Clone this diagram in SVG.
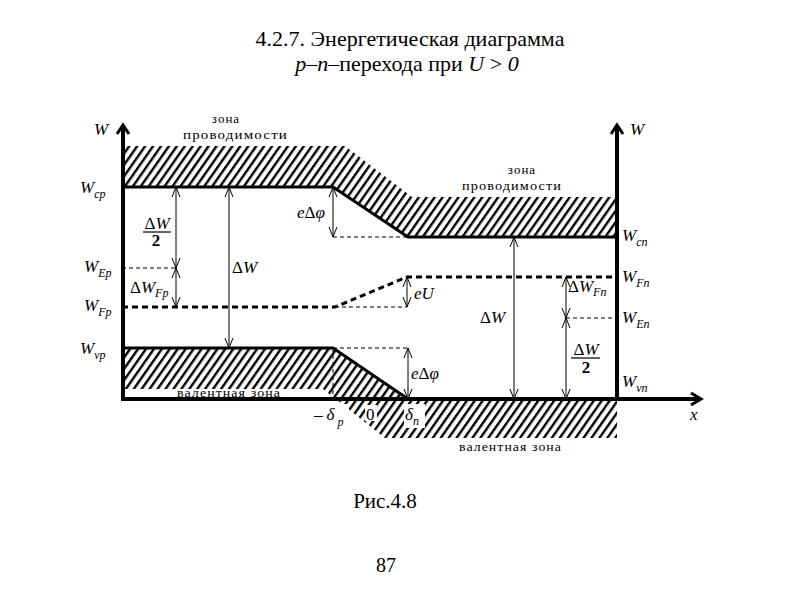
<svg xmlns="http://www.w3.org/2000/svg" width="800" height="600" viewBox="0 0 800 600">
<defs>
<pattern id="hatch" patternUnits="userSpaceOnUse" width="6.5" height="20" patternTransform="rotate(35)">
<rect x="0" y="0" width="2.4" height="20" fill="#000"/>
</pattern>
<marker id="v" viewBox="0 -5 11 10" refX="10" refY="0" markerWidth="11" markerHeight="10" markerUnits="userSpaceOnUse" orient="auto-start-reverse">
<path d="M0,-4 L10,0 L0,4" fill="none" stroke="#000" stroke-width="1"/>
</marker>
</defs>
<style>
.t{font-family:"Liberation Serif","Times New Roman",serif;fill:#000}
.i{font-style:italic}
.zone{font-family:"Liberation Serif","Times New Roman",serif;font-size:13px;fill:#000;letter-spacing:1px}
.thick{fill:none;stroke:#000;stroke-width:3}
.axis{fill:none;stroke:#000;stroke-width:4}
.thin{fill:none;stroke:#000;stroke-width:1}
.dash{fill:none;stroke:#000;stroke-width:1;stroke-dasharray:4 3}
.arr{fill:none;stroke:#000;stroke-width:1;marker-start:url(#v);marker-end:url(#v)}
.lab{font-family:"Liberation Serif","Times New Roman",serif;font-size:17px;fill:#000}
.sub{font-size:12px}
</style>
<rect width="800" height="600" fill="#fff"/>

<g id="title">
<text class="t" x="410" y="46" font-size="22" text-anchor="middle">4.2.7. Энергетическая диаграмма</text>
<text class="t" x="407" y="71" font-size="22" text-anchor="middle"><tspan class="i">p</tspan>–<tspan class="i">n</tspan>–перехода при <tspan class="i">U</tspan> &gt; <tspan class="i">0</tspan></text>
</g>

<g id="conduction-band">
<polygon points="122,146 345,146 412,197 617,197 617,237 408,237 333,187 122,187" fill="url(#hatch)"/>
<polyline class="thick" points="122,187 333,187 408,237 617,237"/>
<text class="zone" x="226" y="123" text-anchor="middle">зона</text>
<text class="zone" x="183" y="139" textLength="105" lengthAdjust="spacingAndGlyphs">проводимости</text>
<text class="zone" x="522" y="174" text-anchor="middle">зона</text>
<text class="zone" x="462" y="190" textLength="100" lengthAdjust="spacingAndGlyphs">проводимости</text>
</g>

<g id="valence-band">
<polygon points="122,348 333,348 408,399 617,399 617,438 385,438 323,389 122,389" fill="url(#hatch)"/>
<polyline class="thick" points="122,348 333,348 408,399"/>
<text class="zone" x="177" y="397" textLength="104" lengthAdjust="spacingAndGlyphs">валентная зона</text>
<text class="zone" x="459" y="451" textLength="103" lengthAdjust="spacingAndGlyphs">валентная зона</text>
</g>

<g id="fermi-level">
<polyline points="122,307 335,307 407,277 617,277" fill="none" stroke="#000" stroke-width="3" stroke-dasharray="6 4"/>
</g>

<g id="axes">
<polyline class="axis" points="123,128 123,399 700,399"/>
<polyline class="axis" points="617,128 617,399"/>
<polyline points="117,134 123,125 129,134" fill="none" stroke="#000" stroke-width="3"/>
<polyline points="611,134 617,125 623,134" fill="none" stroke="#000" stroke-width="3"/>
<polyline points="691,393 701,399 691,405" fill="none" stroke="#000" stroke-width="3"/>
<text class="lab i" x="94" y="135">W</text>
<text class="lab i" x="630" y="135">W</text>
<text class="lab i" x="690" y="420">x</text>
</g>

<g id="connectors">
<line class="dash" x1="333" y1="237" x2="408" y2="237"/>
<line class="dash" x1="335" y1="307" x2="407" y2="307"/>
<line class="dash" x1="122" y1="268" x2="176" y2="268"/>
<line class="dash" x1="566" y1="318" x2="617" y2="318"/>
<line class="dash" x1="333" y1="348" x2="408" y2="348"/>
<line class="dash" x1="333" y1="348" x2="333" y2="401"/>
<line class="arr" x1="333" y1="187" x2="333" y2="237"/>
<line class="arr" x1="176" y1="187" x2="176" y2="268"/>
<line class="arr" x1="176" y1="268" x2="176" y2="307"/>
<line class="arr" x1="229" y1="187" x2="229" y2="348"/>
<line class="arr" x1="407" y1="277" x2="407" y2="307"/>
<line class="arr" x1="408" y1="348" x2="408" y2="399"/>
<line class="arr" x1="514" y1="237" x2="514" y2="399"/>
<line class="arr" x1="566" y1="277" x2="566" y2="318"/>
<line class="arr" x1="566" y1="318" x2="566" y2="399"/>
</g>

<g id="left-labels">
<text class="lab i" x="80" y="193">W<tspan class="sub" dy="5">cp</tspan></text>
<text class="lab i" x="84" y="272">W<tspan class="sub" dy="5">Ep</tspan></text>
<text class="lab i" x="84" y="311">W<tspan class="sub" dy="5">Fp</tspan></text>
<text class="lab i" x="80" y="354">W<tspan class="sub" dy="5">vp</tspan></text>
<text class="lab" x="157" y="229" text-anchor="middle">Δ<tspan class="i">W</tspan></text>
<line x1="143" y1="232" x2="171" y2="232" stroke="#000" stroke-width="1.2"/>
<text class="lab" x="156" y="246" text-anchor="middle" font-weight="bold">2</text>
<text class="lab" x="130" y="293">Δ<tspan class="i">W</tspan><tspan class="sub i" dy="4">Fp</tspan></text>
<text class="lab" x="232" y="273">Δ<tspan class="i">W</tspan></text>
<text class="lab i" x="297" y="218">e<tspan font-style="normal">Δ</tspan>φ</text>
</g>

<g id="middle-labels">
<text class="lab i" x="414" y="299">eU</text>
<text class="lab i" x="411" y="379">e<tspan font-style="normal">Δ</tspan>φ</text>
<rect x="313" y="404" width="36" height="26" fill="#fff"/>
<text class="lab" x="314" y="420">–<tspan class="i" dx="4">δ</tspan><tspan class="sub i" dx="3" dy="6">p</tspan></text>
<rect x="365" y="405" width="12" height="16" fill="#fff"/>
<text class="lab" x="366" y="420">0</text>
<rect x="404" y="404" width="21" height="24" fill="#fff"/>
<text class="lab i" x="405" y="420">δ<tspan class="sub" dy="5">n</tspan></text>
</g>

<g id="right-labels">
<text class="lab i" x="622" y="241">W<tspan class="sub" dy="5">cn</tspan></text>
<text class="lab i" x="622" y="282">W<tspan class="sub" dy="5">Fn</tspan></text>
<text class="lab i" x="622" y="323">W<tspan class="sub" dy="5">En</tspan></text>
<text class="lab i" x="622" y="387">W<tspan class="sub" dy="5">vn</tspan></text>
<text class="lab" x="480" y="323">Δ<tspan class="i">W</tspan></text>
<text class="lab" x="568" y="292">Δ<tspan class="i">W</tspan><tspan class="sub i" dy="4">Fn</tspan></text>
<text class="lab" x="586" y="355" text-anchor="middle">Δ<tspan class="i">W</tspan></text>
<line x1="571" y1="358" x2="600" y2="358" stroke="#000" stroke-width="1.2"/>
<text class="lab" x="586" y="373" text-anchor="middle" font-weight="bold">2</text>
</g>

<g id="caption">
<text class="t" x="385" y="508" font-size="21" text-anchor="middle">Рис.4.8</text>
<text class="t" x="386" y="572" font-size="20" text-anchor="middle">87</text>
</g>
</svg>
